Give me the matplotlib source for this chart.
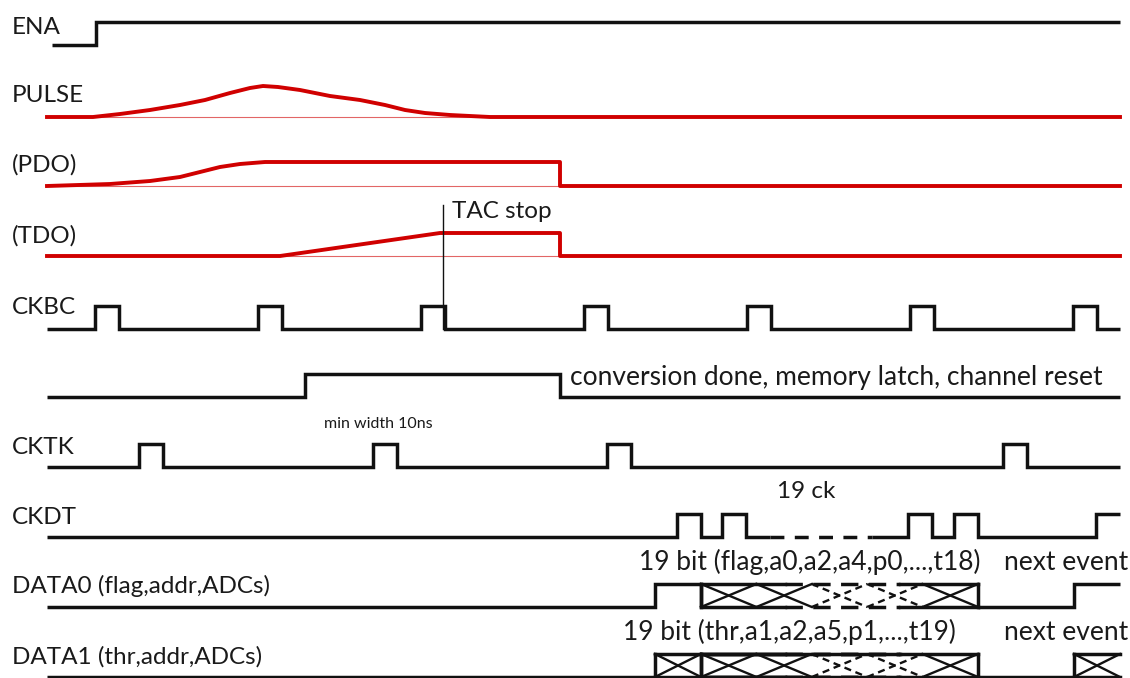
import matplotlib.pyplot as plt

plt.rcParams['font.family'] = ['Lato', 'DejaVu Sans']

# drawing units: x in time (0..1130), y in rows (0 at top)
t_start, t_end = 47, 1120
swing = 23

labels = ['ENA', 'PULSE', '(PDO)', '(TDO)', 'CKBC', 'CKTK', 'CKDT',
          'DATA0 (flag,addr,ADCs)', 'DATA1 (thr,addr,ADCs)']
label_y = [27, 95, 165, 236, 307, 447, 517, 586, 657]

# baselines (low level) of each row
y_ena, y_pulse, y_pdo, y_tdo = 45, 117, 186, 256
y_ckbc, y_conv, y_cktk, y_ckdt = 329, 397, 467, 537
y_data0, y_data1 = 607, 677

ena_edges = [96]
ckbc_rise = [95, 258, 421, 584, 747, 910, 1073]
ckbc_width = 24
conv_edges = [305, 560]
cktk_rise = [139, 373, 607, 1003]
cktk_width = 24
ckdt_rise = [677, 722, 908, 954]
ckdt_width = 24
ckdt_dash = [770, 872]
ckdt_next = 1096

# analog shapes: time / height above baseline
pulse_t = [47, 93, 120, 150, 180, 205, 230, 250, 263, 278, 300, 330, 360,
           385, 405, 425, 450, 490, 1120]
pulse_h = [0, 0, 3, 7, 12, 17, 24, 29, 31, 30, 27, 21, 17, 12, 7, 4, 2, 0, 0]
pdo_t = [47, 110, 150, 180, 200, 220, 240, 265, 560, 560, 1120]
pdo_h = [0, 2, 5, 9, 14, 19, 22, 24, 24, 0, 0]
tdo_t = [47, 280, 440, 560, 560, 1120]
tdo_h = [0, 0, 23, 23, 0, 0]
tac_stop = 443

data0_edges = [655, 701, 978, 1074]
data1_bus = [655, 701, 978]
data1_next = 1074
bus_cells = 5
bus_dash = [785, 900]

black = '#111111'
red = '#d00000'
text_col = '#1a1a1a'
lw = 2.5
fs_label = 17.5
fs_note = 19


def square(edges, t0, t1, start=0):
    xs, ys = [t0], [start]
    lvl = start
    for e in edges:
        xs += [e, e]
        ys += [lvl, 1 - lvl]
        lvl = 1 - lvl
    xs.append(t1)
    ys.append(lvl)
    return xs, ys


def pulses(rises, width):
    edges = []
    for r in rises:
        edges += [r, r + width]
    return edges


def draw_digital(ax, edges, y0, t0=t_start, t1=t_end, start=0, ls='-'):
    xs, ys = square(edges, t0, t1, start)
    ax.plot(xs, [y0 - v * swing for v in ys], color=black, lw=lw, ls=ls,
            solid_joinstyle='miter', solid_capstyle='butt')


def draw_analog(ax, ts, hs, y0):
    ax.plot([t_start, t_end], [y0, y0], color=red, lw=0.8, alpha=0.6)
    ax.plot(ts, [y0 - h for h in hs], color=red, lw=lw + 0.3,
            solid_joinstyle='round')


def draw_bus(ax, x0, x1, n, y0):
    yt = y0 - swing
    w = (x1 - x0) / n
    for i in range(n):
        a, b = x0 + i * w, x0 + (i + 1) * w
        dashed = a >= bus_dash[0] - 10 and b <= bus_dash[1] + 25
        ls = (0, (3, 2)) if dashed else '-'
        ax.plot([a, b], [y0, yt], color=black, lw=1.7, ls=ls)
        ax.plot([a, b], [yt, y0], color=black, lw=1.7, ls=ls)
    for y in (y0, yt):
        ax.plot([x0, bus_dash[0]], [y, y], color=black, lw=lw)
        ax.plot([bus_dash[0], bus_dash[1]], [y, y], color=black, lw=lw,
                ls=(0, (5, 3)))
        ax.plot([bus_dash[1], x1], [y, y], color=black, lw=lw)
    ax.plot([x0, x0], [y0, yt], color=black, lw=lw)
    ax.plot([x1, x1], [y0, yt], color=black, lw=lw)


fig = plt.figure(figsize=(11.3, 6.78), dpi=100)
ax = fig.add_axes([0, 0, 1, 1])
ax.set_xlim(0, 1130)
ax.set_ylim(678, 0)
ax.axis('off')

for lab, ly in zip(labels, label_y):
    ax.text(12, ly, lab, fontsize=fs_label, va='center', ha='left',
            color=text_col)

# ENA
draw_digital(ax, ena_edges, y_ena, t0=52)

# analog rows
draw_analog(ax, pulse_t, pulse_h, y_pulse)
draw_analog(ax, pdo_t, pdo_h, y_pdo)
draw_analog(ax, tdo_t, tdo_h, y_tdo)

# TAC stop marker
ax.plot([tac_stop, tac_stop], [205, y_ckbc], color=black, lw=1.0)
ax.text(tac_stop + 9, 212, 'TAC stop', fontsize=fs_label, va='center',
        ha='left', color=text_col)

# clocks
draw_digital(ax, pulses(ckbc_rise, ckbc_width), y_ckbc)
draw_digital(ax, conv_edges, y_conv)
ax.text(570, 377, 'conversion done, memory latch, channel reset',
        fontsize=fs_note, va='center', ha='left', color=text_col)
draw_digital(ax, pulses(cktk_rise, cktk_width), y_cktk)
ax.text(378, 424, 'min width 10ns', fontsize=11.5, va='center', ha='center',
        color=text_col)

# CKDT: solid, dashed gap, solid
ck_edges = pulses(ckdt_rise, ckdt_width)
draw_digital(ax, [e for e in ck_edges if e < ckdt_dash[0]], y_ckdt,
             t1=ckdt_dash[0])
draw_digital(ax, [], y_ckdt, t0=ckdt_dash[0], t1=ckdt_dash[1], ls=(0, (4, 3)))
draw_digital(ax, [e for e in ck_edges if e > ckdt_dash[1]] + [ckdt_next],
             y_ckdt, t0=ckdt_dash[1])
ax.text(806, 492, '19 ck', fontsize=fs_label, va='center', ha='center',
        color=text_col)

# DATA0
draw_digital(ax, data0_edges[:2], y_data0, t1=data0_edges[1])
draw_bus(ax, data0_edges[1], data0_edges[2], bus_cells, y_data0)
draw_digital(ax, data0_edges[3:], y_data0, t0=data0_edges[2])
ax.text(810, 562, '19 bit (flag,a0,a2,a4,p0,...,t18)', fontsize=fs_note,
        va='center', ha='center', color=text_col)
ax.text(1128, 562, 'next event', fontsize=fs_note, va='center', ha='right',
        color=text_col)

# DATA1
draw_digital(ax, [], y_data1, t1=data1_bus[0])
draw_bus(ax, data1_bus[0], data1_bus[1], 1, y_data1)
draw_bus(ax, data1_bus[1], data1_bus[2], bus_cells, y_data1)
draw_digital(ax, [], y_data1, t0=data1_bus[2], t1=data1_next)
ax.plot([data1_next, data1_next], [y_data1, y_data1 - swing], color=black,
        lw=lw)
for y in (y_data1, y_data1 - swing):
    ax.plot([data1_next, t_end], [y, y], color=black, lw=lw)
ax.plot([data1_next, t_end], [y_data1, y_data1 - swing], color=black, lw=1.7)
ax.plot([data1_next, t_end], [y_data1 - swing, y_data1], color=black, lw=1.7)
ax.text(789, 632, '19 bit (thr,a1,a2,a5,p1,...,t19)', fontsize=fs_note,
        va='center', ha='center', color=text_col)
ax.text(1128, 632, 'next event', fontsize=fs_note, va='center', ha='right',
        color=text_col)

fig.savefig('out.png', dpi=100)
